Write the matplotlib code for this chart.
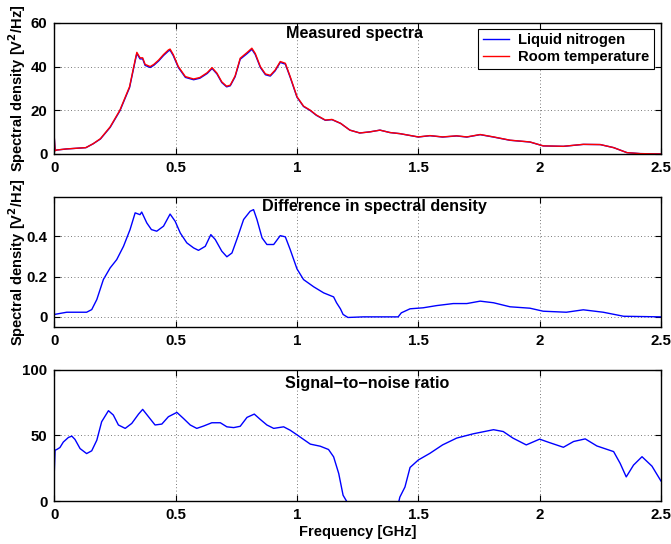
#!/usr/bin/env python3

import matplotlib
matplotlib.use("Agg")
import matplotlib.pyplot as plt

# measured spectra [V^2/Hz] vs frequency [GHz]
freq_spec = [0, 0.003, 0.01, 0.05, 0.13, 0.16, 0.19, 0.23, 0.27, 0.31, 0.333, 0.34, 0.353, 0.364, 0.374,
             0.395, 0.41, 0.43, 0.45, 0.47, 0.477, 0.49, 0.511, 0.54, 0.574, 0.60, 0.63, 0.65, 0.67, 0.69,
             0.71, 0.725, 0.745, 0.766, 0.794, 0.814, 0.828, 0.849, 0.87, 0.89, 0.91, 0.931, 0.952, 0.972,
             1.0, 1.027, 1.055, 1.08, 1.117, 1.144, 1.18, 1.218, 1.259, 1.30, 1.342, 1.383, 1.424, 1.5,
             1.548, 1.60, 1.658, 1.70, 1.755, 1.81, 1.878, 1.96, 2.015, 2.098, 2.18, 2.25, 2.305, 2.36,
             2.415, 2.5]
spec_ln2 = [6.99, 1.49, 1.79, 2.28, 2.88, 4.65, 6.85, 12.16, 19.7, 30.37, 42.5, 45.99, 43.5, 43.5, 40.53,
            39.57, 40.57, 42.57, 45.05, 47.1, 47.49, 45.02, 39.57, 35.03, 33.96, 34.67, 36.83, 39.1, 36.63,
            32.67, 30.7, 31.19, 35.33, 43.35, 45.89, 47.87, 45.5, 39.58, 36.24, 35.64, 38.03, 41.9, 41.1,
            35.07, 25.96, 21.71, 19.84, 17.66, 15.39, 15.7, 13.97, 10.9, 9.6, 10.1, 10.9, 9.8, 9.29, 7.75,
            8.35, 7.74, 8.23, 7.73, 8.82, 7.73, 6.25, 5.46, 3.67, 3.48, 4.37, 4.28, 2.89, 0.6, 0.15, 0.0]
spec_room = [7.0, 1.5, 1.8, 2.3, 2.9, 4.7, 7.0, 12.4, 20.0, 30.8, 43.0, 46.5, 44.0, 44.0, 41.0,
             40.0, 41.0, 43.0, 45.5, 47.6, 48.0, 45.5, 40.0, 35.4, 34.3, 35.0, 37.2, 39.5, 37.0, 33.0,
             31.0, 31.5, 35.7, 43.8, 46.4, 48.4, 46.0, 40.0, 36.6, 36.0, 38.4, 42.3, 41.5, 35.4, 26.2,
             21.9, 20.0, 17.8, 15.5, 15.8, 14.0, 10.9, 9.6, 10.1, 10.9, 9.8, 9.3, 7.8, 8.4, 7.8,
             8.3, 7.8, 8.9, 7.8, 6.3, 5.5, 3.7, 3.5, 4.4, 4.3, 2.9, 0.6, 0.15, 0.0]

# difference in spectral density
freq_diff = [0, 0.051, 0.10, 0.133, 0.154, 0.175, 0.202, 0.23, 0.257, 0.285, 0.312, 0.333, 0.353, 0.36,
             0.381, 0.40, 0.422, 0.45, 0.477, 0.498, 0.519, 0.546, 0.574, 0.594, 0.622, 0.645, 0.663, 0.69,
             0.711, 0.732, 0.752, 0.78, 0.807, 0.821, 0.835, 0.856, 0.876, 0.904, 0.931, 0.952, 0.972, 1.0,
             1.027, 1.069, 1.11, 1.151, 1.163, 1.179, 1.19, 1.21, 1.273, 1.34, 1.417, 1.43, 1.466, 1.52,
             1.576, 1.644, 1.70, 1.755, 1.81, 1.878, 1.96, 2.015, 2.11, 2.18, 2.262, 2.346, 2.5]
diff = [0.012, 0.023, 0.023, 0.023, 0.036, 0.086, 0.185, 0.243, 0.284, 0.35, 0.433, 0.516, 0.507, 0.52,
        0.466, 0.433, 0.425, 0.45, 0.51, 0.474, 0.416, 0.367, 0.342, 0.33, 0.35, 0.408, 0.384, 0.326,
        0.298, 0.317, 0.384, 0.483, 0.524, 0.532, 0.483, 0.392, 0.359, 0.359, 0.403, 0.397, 0.334, 0.238,
        0.185, 0.149, 0.119, 0.099, 0.07, 0.04, 0.012, -0.003, 0.0, 0.0, 0.0, 0.02, 0.04, 0.045,
        0.056, 0.066, 0.066, 0.078, 0.07, 0.05, 0.043, 0.028, 0.023, 0.035, 0.023, 0.003, 0.0]

# signal-to-noise ratio
freq_snr = [0, 0.003, 0.01, 0.023, 0.037, 0.058, 0.072, 0.085, 0.106, 0.133, 0.154, 0.175, 0.195, 0.223,
            0.243, 0.264, 0.292, 0.319, 0.347, 0.364, 0.388, 0.415, 0.443, 0.47, 0.505, 0.532, 0.56, 0.587,
            0.615, 0.649, 0.684, 0.711, 0.739, 0.766, 0.794, 0.824, 0.849, 0.876, 0.904, 0.945, 0.972, 1.0,
            1.027, 1.055, 1.096, 1.13, 1.151, 1.172, 1.19, 1.204, 1.22, 1.41, 1.424, 1.445, 1.466, 1.5,
            1.548, 1.60, 1.658, 1.727, 1.81, 1.85, 1.89, 1.945, 2.0, 2.04, 2.098, 2.14, 2.188, 2.236,
            2.305, 2.332, 2.357, 2.387, 2.422, 2.463, 2.5]
snr = [23.5, 38.8, 39.3, 40.8, 45.0, 48.5, 49.5, 47.0, 40.0, 36.2, 38.3, 46.4, 60.5, 68.9,
       65.6, 58.0, 55.4, 59.2, 66.3, 69.9, 64.3, 58.0, 58.7, 64.3, 67.6, 63.0, 58.0, 55.4,
       57.2, 59.7, 59.7, 56.6, 56.0, 57.0, 63.8, 66.3, 62.2, 58.0, 55.4, 56.6, 54.0, 50.5,
       47.0, 43.4, 41.8, 39.3, 33.7, 21.0, 4.4, 0.0, -8.0, -8.0, 3.0, 10.7, 25.6, 31.3,
       36.4, 42.8, 48.0, 51.3, 54.4, 53.0, 48.0, 42.8, 47.2, 44.6, 41.0, 45.4, 47.4, 42.0,
       37.7, 28.7, 18.4, 27.4, 33.8, 26.6, 15.3]

x_ticks = [0, 0.5, 1, 1.5, 2, 2.5]
x_ticklabels = ["0", "0.5", "1", "1.5", "2", "2.5"]


def style_axes(ax, yticks, yticklabels, ylim):
    ax.set_xlim(0, 2.5)
    ax.set_ylim(*ylim)
    ax.set_xticks(x_ticks)
    ax.set_xticklabels(x_ticklabels)
    ax.set_yticks(yticks)
    ax.set_yticklabels(yticklabels)
    ax.tick_params(direction="in", length=4, width=0.8, top=True, right=True,
                   labelsize=10.8, pad=5)
    for lab in ax.get_xticklabels() + ax.get_yticklabels():
        lab.set_fontweight("bold")
    ax.grid(True, color="k", linestyle=(0, (1, 3)), linewidth=0.6, alpha=0.7)
    for sp in ax.spines.values():
        sp.set_linewidth(1.0)


def main():
    plt.rcParams["font.family"] = ["Liberation Sans", "DejaVu Sans"]
    plt.rcParams["font.weight"] = "bold"

    fig = plt.figure(figsize=(6.71, 5.44), dpi=100)
    left, width = 0.081, 0.904
    ax1 = fig.add_axes([left, 0.717, width, 0.241])
    ax2 = fig.add_axes([left, 0.399, width, 0.239])
    ax3 = fig.add_axes([left, 0.079, width, 0.241])

    # measured spectra
    ax1.plot(freq_spec, spec_ln2, color="#0000ff", lw=1.0, label="Liquid nitrogen")
    ax1.plot(freq_spec, spec_room, color="#ff0000", lw=1.0, label="Room temperature")
    style_axes(ax1, [0, 20, 40, 60], ["0", "20", "40", "60"], (0, 60))
    ax1.text(0.494, 0.916, "Measured spectra", transform=ax1.transAxes, ha="center", va="center",
             fontsize=11.6, fontweight="bold")
    ax1.set_ylabel(r"Spectral density [V$^\mathbf{2}$/Hz]", fontsize=10.5, fontweight="bold")
    ax1.yaxis.set_label_coords(-0.044, 0.5)
    leg = ax1.legend(loc="upper right", bbox_to_anchor=(0.988, 0.955), fontsize=10.6, frameon=True,
                     fancybox=False, edgecolor="k", framealpha=1.0, borderpad=0.3, labelspacing=0.2,
                     handlelength=1.8, handletextpad=0.6, borderaxespad=0.0)
    leg.get_frame().set_linewidth(0.8)
    for t in leg.get_texts():
        t.set_fontweight("bold")

    # difference
    ax2.plot(freq_diff, diff, color="#0000ff", lw=1.0)
    style_axes(ax2, [0, 0.2, 0.4], ["0", "0.2", "0.4"], (-0.05, 0.595))
    ax2.text(0.527, 0.923, "Difference in spectral density", transform=ax2.transAxes, ha="center",
             va="center", fontsize=11.6, fontweight="bold")
    ax2.set_ylabel(r"Spectral density [V$^\mathbf{2}$/Hz]", fontsize=10.5, fontweight="bold")
    ax2.yaxis.set_label_coords(-0.044, 0.5)

    # signal-to-noise ratio
    ax3.plot(freq_snr, snr, color="#0000ff", lw=1.0)
    style_axes(ax3, [0, 50, 100], ["0", "50", "100"], (0, 100))
    ax3.text(0.516, 0.893, "Signal\u2212to\u2212noise ratio", transform=ax3.transAxes, ha="center",
             va="center", fontsize=11.6, fontweight="bold")
    ax3.set_xlabel("Frequency [GHz]", fontsize=10.5, fontweight="bold", labelpad=2)

    fig.savefig("out.png", dpi=100)


if __name__ == "__main__":
    main()
